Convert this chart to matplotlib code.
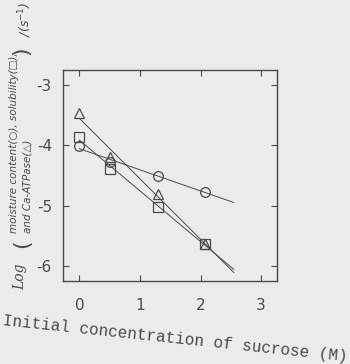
import numpy as np
import matplotlib
matplotlib.use("Agg")
import matplotlib.pyplot as plt

conc = [0.0, 0.5, 1.3, 2.07]
moisture = [-4.02, -4.28, -4.51, -4.77]
solubility = [-3.86, -4.40, -5.02, -5.63]
atpase = [-3.47, -4.19, -4.80, -5.63]
xticks = [0, 1, 2, 3]
yticks = [-3, -4, -5, -6]

ink = "#4a4a4a"
bg = "#ebebe8"

fig = plt.figure(figsize=(3.5, 3.64), dpi=100, facecolor=bg)
ax = fig.add_axes([0.18, 0.228, 0.611, 0.58], facecolor=bg)

xfit = np.array([0.0, 2.55])
for ys, m in [(moisture, "o"), (solubility, "s"), (atpase, "^")]:
    p = np.polyfit(conc, ys, 1)
    ax.plot(xfit, np.polyval(p, xfit), color=ink, lw=0.7)
    ax.plot(conc, ys, m, ms=7, mfc="none", mec=ink, mew=0.9)

ax.set_xlim(-0.27, 3.26)
ax.set_ylim(-6.25, -2.75)
ax.set_xticks(xticks)
ax.set_yticks(yticks)
ax.set_xticklabels([str(v) for v in xticks])
ax.set_yticklabels(["-%d" % (-v) for v in yticks])
ax.tick_params(direction="in", top=True, right=True, length=4, width=0.8,
               color=ink, labelcolor=ink, labelsize=11)
ax.tick_params(axis="x", pad=12)
ax.tick_params(axis="y", pad=8)
for s in ax.spines.values():
    s.set_color(ink)
    s.set_linewidth(1.0)

# y label pieces (read bottom to top)
fig.text(0.057, 0.24, "Log", rotation=90, fontsize=10, style="italic",
         color=ink, ha="center", va="center", family="DejaVu Serif")
fig.text(0.062, 0.33, "(", rotation=90, fontsize=16, color=ink,
         ha="center", va="center")
fig.text(0.04, 0.36, "moisture content(○), solubility(□),", rotation=90,
         fontsize=7.5, style="italic", color=ink, ha="center", va="bottom")
fig.text(0.08, 0.36, "and Ca-ATPase(△)", rotation=90, fontsize=7.5,
         style="italic", color=ink, ha="center", va="bottom")
fig.text(0.062, 0.862, ")", rotation=90, fontsize=16, color=ink,
         ha="center", va="center")
fig.text(0.072, 0.897, "/(s$^{-1}$)", rotation=90, fontsize=9, style="italic",
         color=ink, ha="center", va="bottom")

fig.text(0.5, 0.07, "Initial concentration of sucrose (M)", rotation=-6,
         fontsize=11.5, family="Liberation Mono", color=ink, ha="center",
         va="center")

fig.savefig("out.png", dpi=100, facecolor=bg)
